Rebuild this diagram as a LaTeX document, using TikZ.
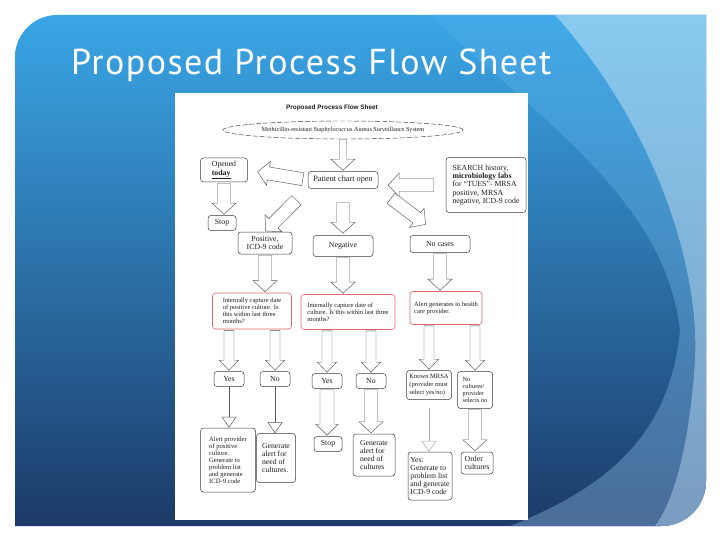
\documentclass[tikz,border=0pt]{standalone}
\usepackage{fontspec}
\usepackage{tikz}
\usetikzlibrary{arrows.meta,calc,shapes.geometric}
\setmainfont{Liberation Serif}
\newfontfamily\slidefont[LetterSpace=4]{PT Sans}
\newfontfamily\headfont{Liberation Sans}
\definecolor{skytop}{HTML}{3AA6E6}
\definecolor{navybot}{HTML}{1C3A68}
\definecolor{bandtop}{HTML}{42AAE8}
\definecolor{bandbot}{HTML}{4A6C98}
\definecolor{edgetop}{HTML}{88CAF0}
\definecolor{edgebot}{HTML}{7A9CC0}
\definecolor{boxline}{HTML}{3A3A3A}
\definecolor{redline}{HTML}{E06666}
\definecolor{arrline}{HTML}{555555}
\definecolor{faintline}{HTML}{A8A8A8}
\definecolor{textink}{HTML}{1E1E1E}
\tikzset{
  flowbox/.style={draw=boxline,fill=white,line width=0.5pt,rounded corners=3pt,inner sep=1.5pt,align=left,text=textink,font=\fontsize{7.8}{8.4}\selectfont},
  smallbox/.style={flowbox,align=center},
  redbox/.style={flowbox,draw=redline,line width=0.6pt,font=\fontsize{6.5}{6.9}\selectfont},
  arrbody/.style={draw=arrline,fill=white,line width=0.45pt,line join=miter},
  thinarr/.style={draw=arrline,line width=0.5pt,-{Triangle[open,length=11pt,width=15pt]}},
  shaftw/.store in=\shaftw, headw/.store in=\headw, headl/.store in=\headl,
  gapa/.store in=\gapa, gapb/.store in=\gapb,
  shaftw=6.5pt, headw=12pt, headl=11pt, gapa=1pt, gapb=1pt
}
\newcommand\blockarrow[3][]{%
  \begin{scope}[#1]
    \coordinate (ba-s) at ($(#2)!\gapa!(#3)$);
    \coordinate (ba-e) at ($(#3)!\gapb!(#2)$);
    \coordinate (ba-h) at ($(ba-e)!\headl!(ba-s)$);
    \draw[arrbody] ($(ba-s)!\shaftw!90:(ba-e)$)
      -- ($(ba-h)!\shaftw!-90:(ba-s)$)
      -- ($(ba-h)!\headw!-90:(ba-s)$)
      -- (ba-e)
      -- ($(ba-h)!\headw!90:(ba-s)$)
      -- ($(ba-h)!\shaftw!90:(ba-s)$)
      -- ($(ba-s)!\shaftw!-90:(ba-e)$) -- cycle;
  \end{scope}}

\begin{document}
\begin{tikzpicture}[x=1pt,y=-1pt]
  \useasboundingbox (0,0) rectangle (720,540);
  \fill[white] (0,0) rectangle (720,540);
  \begin{scope}
    \clip (15,526) -- (15,57) .. controls (15,34) and (34,15) .. (57,15) -- (706,15)
      -- (706,481) .. controls (706,506) and (686,526) .. (661,526) -- cycle;
    \shade[top color=skytop,bottom color=navybot] (0,15) rectangle (720,526);
    \shade[top color=bandtop,bottom color=bandbot] (430,15) .. controls (540,120) and (665,200) .. (680,330)
      .. controls (670,440) and (600,490) .. (510,526) -- (720,526) -- (720,15) -- cycle;
    \shade[top color=edgetop,bottom color=edgebot] (555,15) .. controls (650,120) and (700,260) .. (695,360)
      .. controls (690,440) and (675,500) .. (655,526) -- (720,526) -- (720,15) -- cycle;
  \end{scope}
  \node[anchor=base west,text=white,font=\slidefont\fontsize{36}{40}\selectfont,inner sep=0] (title) at (71,75) {Proposed Process Flow Sheet};
  \fill[white] (175,93) rectangle (528,520);

  \node[text=textink,font=\headfont\bfseries\fontsize{6.4}{7}\selectfont] (sheet) at (332,108) {Proposed Process Flow Sheet};
  \node[ellipse,draw=boxline,dash pattern=on 5pt off 2pt,line width=0.45pt,minimum width=240,minimum height=18,inner sep=0,text=textink,font=\fontsize{6.2}{6.5}\selectfont] (mrsa) at (343,130) {Methicillin-resistant Staphylococcus Aureus Surveillance System};

  \node[flowbox,minimum width=47,minimum height=24] (opened) at (224,170) {Opened\\\underline{\textbf{today}}};
  \node[smallbox,minimum width=28,minimum height=15] (stopa) at (222,223) {Stop};
  \node[smallbox,minimum width=70,minimum height=17,font=\fontsize{8.2}{9}\selectfont] (chart) at (343,180) {Patient chart open};
  \node[flowbox,minimum width=80,minimum height=55] (search) at (486,185) {SEARCH history,\\\textbf{microbiology labs}\\for “TUES”- MRSA\\positive, MRSA\\negative, ICD-9 code};
  \node[smallbox,minimum width=54,minimum height=22] (pos) at (265,243) {Positive,\\ICD-9 code};
  \node[smallbox,minimum width=60,minimum height=21] (neg) at (343,246) {Negative};
  \node[smallbox,minimum width=60,minimum height=17] (nocase) at (440,244) {No cases};

  \node[redbox,minimum width=79,minimum height=36] (cap1) at (252,311) {Internally capture date\\of positive culture. Is\\this within last three\\months?};
  \node[redbox,minimum width=94,minimum height=35] (cap2) at (348,312) {Internally capture date of\\culture. Is this within last three\\months?};
  \node[redbox,minimum width=72,minimum height=33] (alertgen) at (446,308) {Alert generates to health\\care provider.};

  \foreach \nm/\px/\py/\lbl in {yesa/229/379/Yes,noa/275/379/No,yesb/327/381/Yes,nob/371/381/No}
    \node[smallbox,minimum width=30,minimum height=15] (\nm) at (\px,\py) {\lbl};
  \node[flowbox,minimum width=45,minimum height=29,font=\fontsize{6.5}{7.6}\selectfont] (known) at (429,385) {Known MRSA\\(provider must\\select yes/no)};
  \node[flowbox,minimum width=35,minimum height=37,font=\fontsize{6.3}{7}\selectfont] (nocult) at (475,390) {No\\cultures/\\provider\\selects no};

  \node[flowbox,minimum width=55,minimum height=64,font=\fontsize{6.6}{7}\selectfont] (alertp) at (228,460) {Alert provider\\of positive\\culture.\\Generate to\\problem list\\and generate\\ICD-9 code};
  \node[flowbox,minimum width=39,minimum height=49,font=\fontsize{7.7}{7.8}\selectfont] (gena) at (276,458) {Generate\\alert for\\need of\\cultures.};
  \node[smallbox,minimum width=28,minimum height=15] (stopb) at (328,444) {Stop};
  \node[flowbox,minimum width=42,minimum height=42,font=\fontsize{7.7}{7.8}\selectfont] (genb) at (374,455) {Generate\\alert for\\need of\\cultures};
  \node[flowbox,minimum width=44,minimum height=48,font=\fontsize{7.7}{8}\selectfont] (yesgen) at (430,476) {Yes:\\Generate to\\problem list\\and generate\\ICD-9 code};
  \node[flowbox,minimum width=32,minimum height=22] (order) at (477,463) {Order\\cultures};

  \blockarrow[shaftw=3.5pt,gapa=0pt]{mrsa.south}{chart.north}
  \blockarrow[gapa=5pt,gapb=10pt]{chart.west}{opened.east}
  \blockarrow[gapa=12pt,gapb=10pt]{search.west}{chart.east |- search.west}
  \blockarrow{opened.south}{opened.south |- stopa.north}
  \blockarrow[gapa=16pt]{chart.south west}{pos.north}
  \blockarrow[gapa=14pt,gapb=2pt]{chart.south}{neg.north}
  \blockarrow[gapa=16pt,gapb=18pt]{chart.south east}{nocase.north}
  \blockarrow{pos.south}{pos.south |- cap1.north}
  \blockarrow{neg.south}{neg.south |- cap2.north}
  \blockarrow{nocase.south}{nocase.south |- alertgen.north}
  \foreach \up/\dn in {cap1/yesa,cap1/noa,cap2/yesb,cap2/nob,alertgen/known,alertgen/nocult}
    \blockarrow[shaftw=5pt,headw=9.5pt,headl=10pt]{\dn.north |- \up.south}{\dn.north};
  \draw[thinarr] (yesa.south) -- (yesa.south |- alertp.north);
  \draw[thinarr] (noa.south) -- (noa.south |- gena.north);
  \draw[thinarr,draw=faintline,shorten <=8pt] (known.south) -- (known.south |- yesgen.north);
  \blockarrow[shaftw=7pt,headw=11pt]{yesb.south}{yesb.south |- stopb.north}
  \blockarrow{nob.south}{nob.south |- genb.north}
  \blockarrow{nocult.south}{nocult.south |- order.north}
\end{tikzpicture}
\end{document}
